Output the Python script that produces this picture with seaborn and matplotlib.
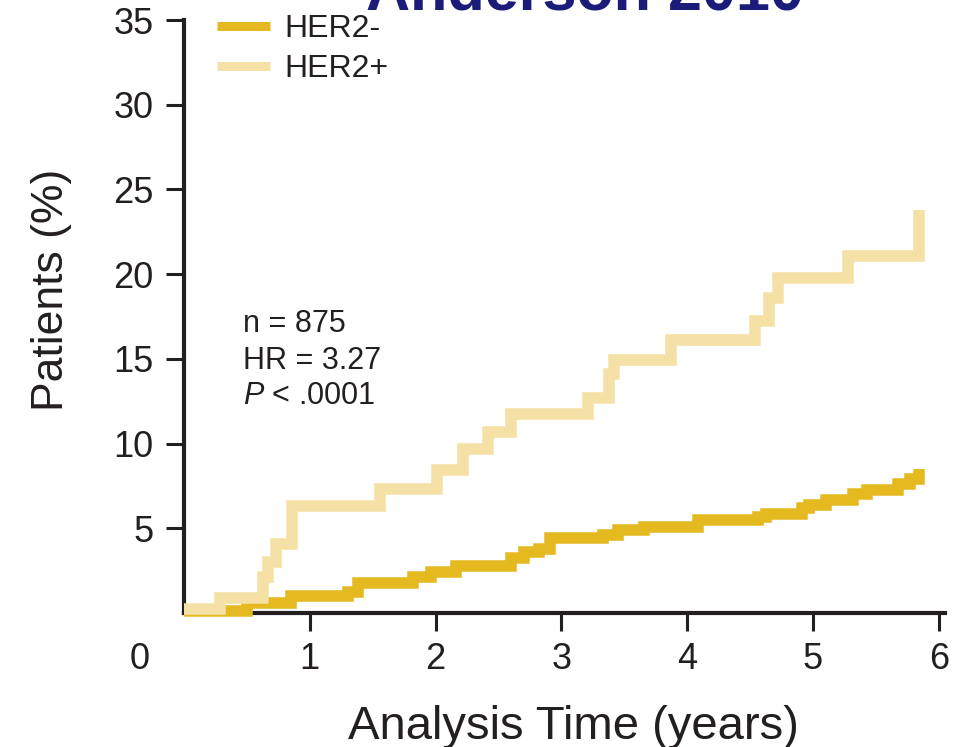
import numpy as np
import pandas as pd
import matplotlib
matplotlib.use("Agg")
import matplotlib.pyplot as plt
import seaborn as sns

# --- DATA ---
her2_neg_t = [0, 0.50, 0.85, 1.30, 1.38, 1.82, 1.96, 2.16, 2.60, 2.70, 2.82, 2.91, 3.33,
              3.45, 3.66, 4.09, 4.56, 4.63, 4.91, 4.97, 5.10, 5.32, 5.43, 5.68, 5.77, 5.84]
her2_neg_y = [0.12, 0.6, 1.02, 1.26, 1.79, 2.11, 2.44, 2.80, 3.25, 3.59, 3.78, 4.41, 4.61,
              4.89, 5.08, 5.50, 5.69, 5.85, 6.21, 6.40, 6.64, 7.03, 7.27, 7.62, 7.92, 8.5]

her2_pos_t = [0, 0.29, 0.63, 0.67, 0.73, 0.86, 1.56, 2.01, 2.22, 2.42, 2.60, 3.21, 3.38,
              3.42, 3.87, 4.54, 4.65, 4.72, 5.28, 5.84]
her2_pos_y = [0.24, 0.9, 2.1, 3.0, 4.1, 6.3, 7.3, 8.45, 9.7, 10.7, 11.75, 12.7, 14.1,
              14.95, 16.1, 17.25, 18.6, 19.75, 21.1, 23.8]

groups = ["HER2-", "HER2+"]
colors = {"HER2-": "#E5B920", "HER2+": "#F5E1A6"}
x_ticks = [1, 2, 3, 4, 5, 6]
y_ticks = [5, 10, 15, 20, 25, 30, 35]
stats_lines = ["n = 875", "HR = 3.27", "$P$ < .0001"]

df = pd.concat([
    pd.DataFrame({"time": her2_neg_t, "pct": her2_neg_y, "group": "HER2-"}),
    pd.DataFrame({"time": her2_pos_t, "pct": her2_pos_y, "group": "HER2+"}),
])

# --- STYLE ---
sns.set_theme(style="ticks")
plt.rcParams["font.family"] = ["Liberation Sans", "DejaVu Sans"]
plt.rcParams["mathtext.fontset"] = "custom"
plt.rcParams["mathtext.it"] = "Liberation Sans:italic"
plt.rcParams["mathtext.rm"] = "Liberation Sans"
ink = "#231F20"

fig = plt.figure(figsize=(9.64, 7.47), dpi=100)
ax = fig.add_axes([184 / 964, 134 / 747, 761 / 964, 593 / 747])

sns.lineplot(data=df, x="time", y="pct", hue="group", hue_order=groups,
             palette=colors, drawstyle="steps-post", estimator=None, sort=False,
             linewidth=8.3, ax=ax, legend=False)
for ln in ax.lines:
    ln.set_solid_capstyle("butt")
    ln.set_solid_joinstyle("miter")
    ln.set_clip_on(False)
    ln.set_zorder(3)

ax.set_xlim(0, 6.05)
ax.set_ylim(0, 35)
sns.despine(ax=ax)
for s in ["left", "bottom"]:
    ax.spines[s].set_linewidth(3)
    ax.spines[s].set_color(ink)

ax.set_xticks(x_ticks)
ax.set_yticks(y_ticks)
ax.tick_params(axis="both", length=13, width=2.2, color=ink, labelcolor=ink,
               labelsize=26, pad=8)
ax.tick_params(axis="y", pad=9)

# origin label
ax.text(-0.35, -3.3, "0", fontsize=26, color=ink, ha="center", va="baseline", clip_on=False)

ax.set_xlabel("Analysis Time (years)", fontsize=34, color=ink, va="baseline")
ax.xaxis.set_label_coords(0.512, -0.212)
ax.set_ylabel("Patients (%)", fontsize=32, color=ink, va="baseline")
ax.yaxis.set_label_coords(-0.159, 0.545)

# legend
handles = [plt.Line2D([], [], color=colors[g], linewidth=6.5, solid_capstyle="butt") for g in groups]
ax.legend(handles, groups, loc="upper left", bbox_to_anchor=(0.043, 1.01), frameon=False,
          fontsize=23, handlelength=1.66, handletextpad=0.47, labelspacing=0.31,
          borderpad=0, borderaxespad=0, labelcolor=ink)

# stats annotation
for s, yv in zip(stats_lines, [17.07, 14.88, 12.82]):
    ax.text(0.47, yv, s, fontsize=22, color=ink, ha="left", va="center")

# cropped heading at the very top (only the lower part shows, as in the source)
fig.text(0.607, 1 - 9 / 747, "Anderson 2010", fontsize=44, fontweight="bold",
         color="#1B1B7A", ha="center", va="baseline")

fig.savefig("out.png", dpi=100, facecolor="white")
